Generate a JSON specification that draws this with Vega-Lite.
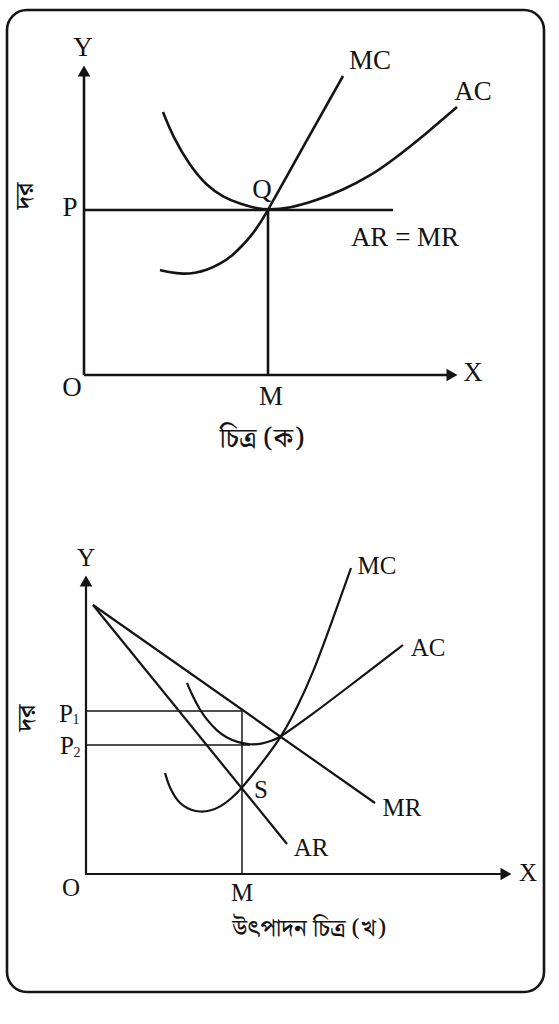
{
  "$schema": "https://vega.github.io/schema/vega-lite/v6.json",
  "width": 559,
  "height": 1024,
  "autosize": {"type": "fit", "contains": "padding"},
  "padding": 0,
  "background": "white",
  "config": {"view": {"stroke": null}},
  "datasets": {
    "frame": [{"x": 7, "y": 32, "x2": 544, "y2": 1014}],
    "segments": [
      {"panel": "a", "kind": "axis", "x": 84, "y": 649, "x2": 84, "y2": 953},
      {"panel": "a", "kind": "axis", "x": 84, "y": 649, "x2": 452, "y2": 649},
      {"panel": "a", "kind": "guide", "x": 268, "y": 649, "x2": 268, "y2": 814},
      {"panel": "a", "kind": "revenue", "x": 84, "y": 814, "x2": 393, "y2": 814},
      {"panel": "b", "kind": "axis", "x": 86, "y": 149, "x2": 86, "y2": 443},
      {"panel": "b", "kind": "axis", "x": 86, "y": 150, "x2": 506, "y2": 150},
      {"panel": "b", "kind": "guide", "x": 86, "y": 313, "x2": 242, "y2": 313},
      {"panel": "b", "kind": "guide", "x": 86, "y": 279, "x2": 250, "y2": 279},
      {"panel": "b", "kind": "guide", "x": 242, "y": 150, "x2": 242, "y2": 313},
      {"panel": "b", "kind": "revenue", "x": 93, "y": 419, "x2": 375, "y2": 221},
      {"panel": "b", "kind": "revenue", "x": 93, "y": 419, "x2": 287, "y2": 180}
    ],
    "curves": [
      {"panel": "a", "series": "MC", "x": 160, "y": 754},
      {"panel": "a", "series": "MC", "x": 170, "y": 751.5},
      {"panel": "a", "series": "MC", "x": 183, "y": 750},
      {"panel": "a", "series": "MC", "x": 195, "y": 751},
      {"panel": "a", "series": "MC", "x": 207, "y": 754},
      {"panel": "a", "series": "MC", "x": 220, "y": 760},
      {"panel": "a", "series": "MC", "x": 232, "y": 768},
      {"panel": "a", "series": "MC", "x": 242, "y": 778},
      {"panel": "a", "series": "MC", "x": 251, "y": 788},
      {"panel": "a", "series": "MC", "x": 259, "y": 799},
      {"panel": "a", "series": "MC", "x": 268, "y": 814},
      {"panel": "a", "series": "MC", "x": 287, "y": 848},
      {"panel": "a", "series": "MC", "x": 307, "y": 884},
      {"panel": "a", "series": "MC", "x": 325, "y": 916},
      {"panel": "a", "series": "MC", "x": 343, "y": 948},
      {"panel": "a", "series": "AC", "x": 163, "y": 912},
      {"panel": "a", "series": "AC", "x": 173, "y": 887},
      {"panel": "a", "series": "AC", "x": 190, "y": 858},
      {"panel": "a", "series": "AC", "x": 207, "y": 838},
      {"panel": "a", "series": "AC", "x": 223, "y": 827},
      {"panel": "a", "series": "AC", "x": 240, "y": 820},
      {"panel": "a", "series": "AC", "x": 257, "y": 815.5},
      {"panel": "a", "series": "AC", "x": 268, "y": 814},
      {"panel": "a", "series": "AC", "x": 290, "y": 816},
      {"panel": "a", "series": "AC", "x": 315, "y": 823},
      {"panel": "a", "series": "AC", "x": 343, "y": 834},
      {"panel": "a", "series": "AC", "x": 370, "y": 848},
      {"panel": "a", "series": "AC", "x": 393, "y": 864},
      {"panel": "a", "series": "AC", "x": 427, "y": 891},
      {"panel": "a", "series": "AC", "x": 457, "y": 917},
      {"panel": "b", "series": "MC", "x": 165, "y": 251},
      {"panel": "b", "series": "MC", "x": 168, "y": 241},
      {"panel": "b", "series": "MC", "x": 172, "y": 232},
      {"panel": "b", "series": "MC", "x": 177, "y": 224},
      {"panel": "b", "series": "MC", "x": 183, "y": 218},
      {"panel": "b", "series": "MC", "x": 191, "y": 214},
      {"panel": "b", "series": "MC", "x": 200, "y": 212},
      {"panel": "b", "series": "MC", "x": 210, "y": 213},
      {"panel": "b", "series": "MC", "x": 220, "y": 217},
      {"panel": "b", "series": "MC", "x": 231, "y": 225},
      {"panel": "b", "series": "MC", "x": 242, "y": 236},
      {"panel": "b", "series": "MC", "x": 262, "y": 261},
      {"panel": "b", "series": "MC", "x": 282, "y": 288},
      {"panel": "b", "series": "MC", "x": 297, "y": 316},
      {"panel": "b", "series": "MC", "x": 313, "y": 351},
      {"panel": "b", "series": "MC", "x": 330, "y": 397},
      {"panel": "b", "series": "MC", "x": 351, "y": 456},
      {"panel": "b", "series": "AC", "x": 187, "y": 341},
      {"panel": "b", "series": "AC", "x": 193, "y": 327},
      {"panel": "b", "series": "AC", "x": 200, "y": 314},
      {"panel": "b", "series": "AC", "x": 207, "y": 304},
      {"panel": "b", "series": "AC", "x": 217, "y": 293},
      {"panel": "b", "series": "AC", "x": 227, "y": 286},
      {"panel": "b", "series": "AC", "x": 237, "y": 282},
      {"panel": "b", "series": "AC", "x": 250, "y": 279},
      {"panel": "b", "series": "AC", "x": 263, "y": 280.5},
      {"panel": "b", "series": "AC", "x": 272, "y": 283},
      {"panel": "b", "series": "AC", "x": 282, "y": 288},
      {"panel": "b", "series": "AC", "x": 310, "y": 308},
      {"panel": "b", "series": "AC", "x": 347, "y": 336},
      {"panel": "b", "series": "AC", "x": 403, "y": 379}
    ],
    "arrows": [
      {"dir": "up", "x": 84, "y": 953},
      {"dir": "right", "x": 452, "y": 649},
      {"dir": "up", "x": 86, "y": 443},
      {"dir": "right", "x": 506, "y": 150}
    ],
    "labels": [
      {"group": "a", "text": "Y", "x": 83, "y": 976},
      {"group": "a", "text": "MC", "x": 370, "y": 963},
      {"group": "a", "text": "AC", "x": 473, "y": 932},
      {"group": "a", "text": "Q", "x": 262, "y": 834},
      {"group": "a", "text": "P", "x": 70, "y": 816},
      {"group": "a", "text": "AR = MR", "x": 405, "y": 786},
      {"group": "a", "text": "O", "x": 72, "y": 636},
      {"group": "a", "text": "M", "x": 271, "y": 627},
      {"group": "a", "text": "X", "x": 473, "y": 651},
      {"group": "b", "text": "Y", "x": 86, "y": 466},
      {"group": "b", "text": "MC", "x": 377, "y": 458},
      {"group": "b", "text": "AC", "x": 428, "y": 376},
      {"group": "b", "text": "MR", "x": 402, "y": 216},
      {"group": "b", "text": "AR", "x": 311, "y": 176},
      {"group": "b", "text": "S", "x": 261, "y": 234},
      {"group": "b", "text": "O", "x": 71, "y": 136},
      {"group": "b", "text": "M", "x": 242, "y": 131},
      {"group": "b", "text": "X", "x": 528, "y": 151},
      {"group": "b", "text": "P", "x": 66, "y": 310},
      {"group": "b", "text": "P", "x": 67, "y": 278},
      {"group": "sub", "text": "1", "x": 76, "y": 304},
      {"group": "sub", "text": "2", "x": 77, "y": 271},
      {"group": "captionA", "text": "চিত্র (ক)", "x": 262, "y": 585},
      {"group": "captionB", "text": "উৎপাদন চিত্র (খ)", "x": 309, "y": 95},
      {"group": "side", "text": "দর", "x": 25, "y": 828},
      {"group": "side", "text": "দর", "x": 27, "y": 306}
    ]
  },
  "encoding": {
    "x": {"field": "x", "type": "quantitative", "scale": {"domain": [0, 559], "nice": false, "zero": false}, "axis": null},
    "y": {"field": "y", "type": "quantitative", "scale": {"domain": [0, 1024], "nice": false, "zero": false}, "axis": null}
  },
  "layer": [
    {
      "data": {"name": "frame"},
      "mark": {"type": "rect", "cornerRadius": 20, "fill": "white", "fillOpacity": 0, "stroke": "#141414", "strokeWidth": 2.6},
      "encoding": {"x2": {"field": "x2"}, "y2": {"field": "y2"}}
    },
    {
      "data": {"name": "segments"},
      "transform": [{"filter": "datum.panel == 'a'"}],
      "mark": {"type": "rule", "color": "#141414", "strokeWidth": 2.6},
      "encoding": {"x2": {"field": "x2"}, "y2": {"field": "y2"}}
    },
    {
      "data": {"name": "segments"},
      "transform": [{"filter": "datum.panel == 'b' && datum.kind != 'guide'"}],
      "mark": {"type": "rule", "color": "#141414", "strokeWidth": 2.2},
      "encoding": {"x2": {"field": "x2"}, "y2": {"field": "y2"}}
    },
    {
      "data": {"name": "segments"},
      "transform": [{"filter": "datum.panel == 'b' && datum.kind == 'guide'"}],
      "mark": {"type": "rule", "color": "#141414", "strokeWidth": 1.5},
      "encoding": {"x2": {"field": "x2"}, "y2": {"field": "y2"}}
    },
    {
      "data": {"name": "curves"},
      "transform": [{"filter": "datum.panel == 'a'"}],
      "mark": {"type": "line", "interpolate": "basis", "color": "#141414", "strokeWidth": 2.6},
      "encoding": {"detail": {"field": "series"}}
    },
    {
      "data": {"name": "curves"},
      "transform": [{"filter": "datum.panel == 'b'"}],
      "mark": {"type": "line", "interpolate": "basis", "color": "#141414", "strokeWidth": 2.2},
      "encoding": {"detail": {"field": "series"}}
    },
    {
      "data": {"name": "arrows"},
      "transform": [{"filter": "datum.dir == 'up'"}],
      "mark": {"type": "point", "shape": "triangle-up", "filled": true, "color": "#141414", "opacity": 1, "size": 160}
    },
    {
      "data": {"name": "arrows"},
      "transform": [{"filter": "datum.dir == 'right'"}],
      "mark": {"type": "point", "shape": "triangle-right", "filled": true, "color": "#141414", "opacity": 1, "size": 160}
    },
    {
      "data": {"name": "labels"},
      "transform": [{"filter": "datum.group == 'a'"}],
      "mark": {"type": "text", "font": "Liberation Serif", "fontSize": 27, "align": "center", "baseline": "middle", "color": "#141414"},
      "encoding": {"text": {"field": "text"}}
    },
    {
      "data": {"name": "labels"},
      "transform": [{"filter": "datum.group == 'b'"}],
      "mark": {"type": "text", "font": "Liberation Serif", "fontSize": 25, "align": "center", "baseline": "middle", "color": "#141414"},
      "encoding": {"text": {"field": "text"}}
    },
    {
      "data": {"name": "labels"},
      "transform": [{"filter": "datum.group == 'sub'"}],
      "mark": {"type": "text", "font": "Liberation Serif", "fontSize": 14, "align": "center", "baseline": "middle", "color": "#141414"},
      "encoding": {"text": {"field": "text"}}
    },
    {
      "data": {"name": "labels"},
      "transform": [{"filter": "datum.group == 'captionA'"}],
      "mark": {"type": "text", "font": "Noto Serif Bengali, Noto Sans Bengali, Lohit Bengali, FreeSerif, sans-serif", "fontSize": 27, "fontWeight": 500, "align": "center", "baseline": "middle", "color": "#141414"},
      "encoding": {"text": {"field": "text"}}
    },
    {
      "data": {"name": "labels"},
      "transform": [{"filter": "datum.group == 'captionB'"}],
      "mark": {"type": "text", "font": "Noto Serif Bengali, Noto Sans Bengali, Lohit Bengali, FreeSerif, sans-serif", "fontSize": 24, "fontWeight": 500, "align": "center", "baseline": "middle", "color": "#141414"},
      "encoding": {"text": {"field": "text"}}
    },
    {
      "data": {"name": "labels"},
      "transform": [{"filter": "datum.group == 'side'"}],
      "mark": {"type": "text", "font": "Noto Serif Bengali, Noto Sans Bengali, Lohit Bengali, FreeSerif, sans-serif", "fontSize": 26, "fontWeight": 500, "angle": 270, "align": "center", "baseline": "middle", "color": "#141414"},
      "encoding": {"text": {"field": "text"}}
    }
  ]
}
